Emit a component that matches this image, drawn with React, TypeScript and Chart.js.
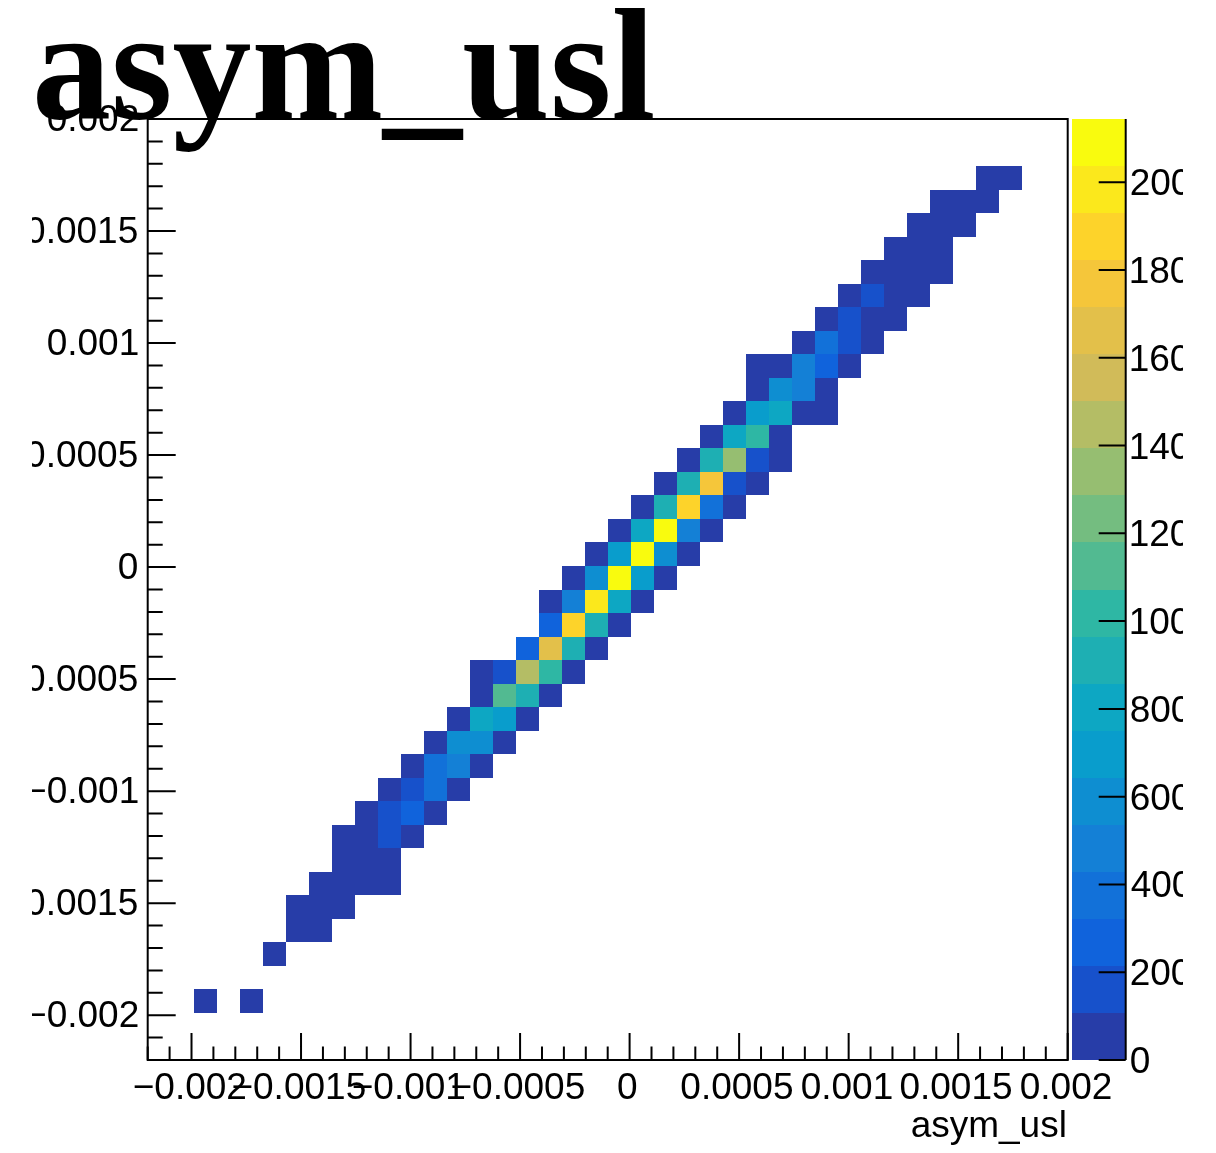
import React, { useEffect, useRef } from 'react';
import { Chart, registerables } from 'chart.js';

Chart.register(...registerables);

// ---- binning / axis ranges ----
const AXIS_MIN = -0.0022;
const AXIS_MAX = 0.002;
const N_BINS = 40;
const MINOR_STEP = 0.0001;
const MAJOR_STEP = 0.0005;
const Z_MAX = 2144;
const N_CONTOURS = 20;

// ---- tick labels ----
const X_TICKS = [-0.002, -0.0015, -0.001, -0.0005, 0, 0.0005, 0.001, 0.0015, 0.002];
const X_TICK_LABELS = ['\u22120.002', '\u22120.0015', '\u22120.001', '\u22120.0005', '0', '0.0005', '0.001', '0.0015', '0.002'];
const Y_TICKS = [-0.002, -0.0015, -0.001, -0.0005, 0, 0.0005, 0.001, 0.0015, 0.002];
const Y_TICK_LABELS = ['\u22120.002', '\u22120.0015', '\u22120.001', '\u22120.0005', '0', '0.0005', '0.001', '0.0015', '0.002'];
const Z_TICKS = [0, 200, 400, 600, 800, 1000, 1200, 1400, 1600, 1800, 2000];
const Z_TICK_LABELS = ['0', '200', '400', '600', '800', '1000', '1200', '1400', '1600', '1800', '2000'];

const TITLE = 'asym_usl';
const X_TITLE = 'asym_usl';

// ---- histogram contents: one row per y bin ----
const ROW_Y_BIN = [2, 4, 5, 6, 7, 8, 9, 10, 11, 12, 13, 14, 15, 16, 17, 18, 19, 20, 21, 22, 23, 24, 25, 26, 27, 28, 29, 30, 31, 32, 33, 34, 35, 36, 37];
const ROW_FIRST_X_BIN = [2, 5, 6, 6, 7, 8, 8, 9, 10, 11, 12, 13, 14, 14, 16, 17, 17, 18, 19, 20, 21, 22, 23, 24, 25, 26, 26, 28, 29, 30, 31, 32, 33, 34, 36];
const ROW_COUNTS = [
  [1, 0, 1],
  [2],
  [3, 4],
  [2, 6, 3],
  [5, 12, 9, 2],
  [10, 30, 8],
  [6, 40, 150, 15],
  [25, 160, 260, 20],
  [40, 180, 380, 35],
  [60, 380, 480, 55],
  [80, 580, 570, 70],
  [90, 790, 700, 90],
  [95, 1130, 900, 100],
  [60, 170, 1440, 1000, 90],
  [270, 1650, 910, 80],
  [260, 1850, 890, 75],
  [70, 480, 1970, 830, 70],
  [80, 590, 2140, 700, 70],
  [85, 700, 2090, 580, 75],
  [80, 800, 2100, 530, 70],
  [85, 900, 1860, 380, 70],
  [80, 890, 1760, 180, 70],
  [90, 910, 1340, 170, 60],
  [85, 800, 1010, 70],
  [80, 690, 790, 60, 30],
  [70, 580, 480, 50],
  [40, 60, 480, 260, 40],
  [60, 400, 170, 40],
  [50, 160, 60, 20],
  [45, 130, 50, 15],
  [40, 60, 30, 10],
  [30, 40, 15],
  [20, 25, 10],
  [10, 12, 5],
  [4, 2],
];

// ---- palette (ROOT kBird) ----
const BIRD_STOPS = [0.0, 0.125, 0.25, 0.375, 0.5, 0.625, 0.75, 0.875, 1.0];
const BIRD_R = [0.2082, 0.0592, 0.0780, 0.0232, 0.1802, 0.5301, 0.8186, 0.9956, 0.9764];
const BIRD_G = [0.1664, 0.3599, 0.5041, 0.6419, 0.7178, 0.7492, 0.7328, 0.7862, 0.9832];
const BIRD_B = [0.5293, 0.8684, 0.8385, 0.7914, 0.6425, 0.4662, 0.3499, 0.1968, 0.0539];

const SANS = "'Liberation Sans', Arial, Helvetica, sans-serif";
const SERIF = "'Liberation Serif', 'Times New Roman', serif";
const LABEL_FONT = `37px ${SANS}`;
const CLIP_LEFT = 32;
const CLIP_RIGHT = 1183;

const BIN_W = (AXIS_MAX - AXIS_MIN) / N_BINS;

function birdColor(p: number): string {
  let k = 0;
  while (k < BIRD_STOPS.length - 2 && p > BIRD_STOPS[k + 1]) k++;
  const t = (p - BIRD_STOPS[k]) / (BIRD_STOPS[k + 1] - BIRD_STOPS[k]);
  const c = (a: number[]) => Math.round(255 * (a[k] + (a[k + 1] - a[k]) * t));
  return `rgb(${c(BIRD_R)},${c(BIRD_G)},${c(BIRD_B)})`;
}

function contourColor(band: number): string {
  const idx = Math.floor(((band + 0.99) * 255) / N_CONTOURS);
  return birdColor(Math.min(1, idx / 254));
}

function colorForValue(v: number): string {
  const band = Math.min(N_CONTOURS - 1, Math.floor(v / (Z_MAX / N_CONTOURS)));
  return contourColor(band);
}

type Cell = { x: number; y: number; v: number; ix: number; iy: number };

function buildCells(): Cell[] {
  const cells: Cell[] = [];
  ROW_Y_BIN.forEach((iy, r) => {
    ROW_COUNTS[r].forEach((count, k) => {
      if (count <= 0) return;
      const ix = ROW_FIRST_X_BIN[r] + k;
      cells.push({
        x: AXIS_MIN + (ix + 0.5) * BIN_W,
        y: AXIS_MIN + (iy + 0.5) * BIN_W,
        v: count,
        ix,
        iy,
      });
    });
  });
  return cells;
}

// text helpers aligning on the ink box (as ROOT does)
function textRightInk(ctx: CanvasRenderingContext2D, s: string, xr: number, baseline: number) {
  const m = ctx.measureText(s);
  ctx.fillText(s, xr - m.actualBoundingBoxRight, baseline);
}
function textLeftInk(ctx: CanvasRenderingContext2D, s: string, xl: number, baseline: number) {
  const m = ctx.measureText(s);
  ctx.fillText(s, xl + m.actualBoundingBoxLeft, baseline);
}
function textCenterInk(ctx: CanvasRenderingContext2D, s: string, xc: number, baseline: number) {
  const m = ctx.measureText(s);
  ctx.fillText(s, xc - (m.actualBoundingBoxRight - m.actualBoundingBoxLeft) / 2, baseline);
}

const clipPlugin = {
  id: 'rootClip',
  beforeDraw(chart: any) {
    const ctx = chart.ctx;
    ctx.save();
    ctx.beginPath();
    ctx.rect(CLIP_LEFT, 0, CLIP_RIGHT - CLIP_LEFT, chart.height);
    ctx.clip();
  },
  afterDraw(chart: any) {
    chart.ctx.restore();
  },
};

const colzPlugin = {
  id: 'colzCells',
  beforeDatasetsDraw(chart: any) {
    const { ctx, chartArea } = chart;
    const xs = chart.scales.x;
    const ys = chart.scales.y;
    const data: Cell[] = chart.data.datasets[0].data;
    ctx.save();
    ctx.beginPath();
    ctx.rect(chartArea.left, chartArea.top, chartArea.right - chartArea.left, chartArea.bottom - chartArea.top);
    ctx.clip();
    for (const c of data) {
      const x0 = Math.round(xs.getPixelForValue(AXIS_MIN + c.ix * BIN_W));
      const x1 = Math.round(xs.getPixelForValue(AXIS_MIN + (c.ix + 1) * BIN_W));
      const y0 = Math.round(ys.getPixelForValue(AXIS_MIN + (c.iy + 1) * BIN_W));
      const y1 = Math.round(ys.getPixelForValue(AXIS_MIN + c.iy * BIN_W));
      ctx.fillStyle = colorForValue(c.v);
      ctx.fillRect(x0, y0, x1 - x0, y1 - y0);
    }
    ctx.restore();
  },
};

const framePlugin = {
  id: 'rootFrame',
  afterDraw(chart: any) {
    const { ctx, chartArea } = chart;
    const xs = chart.scales.x;
    const ys = chart.scales.y;
    const zs = chart.scales.z;
    const { left, right, top, bottom } = chartArea;
    ctx.save();
    ctx.strokeStyle = '#000';
    ctx.lineWidth = 2;
    ctx.strokeRect(left, top, right - left, bottom - top);

    const nMinor = Math.round((AXIS_MAX - AXIS_MIN) / MINOR_STEP);
    ctx.beginPath();
    for (let k = 0; k <= nMinor; k++) {
      const v = AXIS_MIN + k * MINOR_STEP;
      const major = Math.abs(v / MAJOR_STEP - Math.round(v / MAJOR_STEP)) < 1e-6;
      const px = xs.getPixelForValue(v);
      ctx.moveTo(px, bottom);
      ctx.lineTo(px, bottom - (major ? 27 : 13.5));
      const py = ys.getPixelForValue(v);
      ctx.moveTo(left, py);
      ctx.lineTo(left + (major ? 28 : 15), py);
    }
    ctx.stroke();

    // colour palette box
    const pLeft = right + 4.3;
    const pRight = right + 58;
    const dz = Z_MAX / N_CONTOURS;
    for (let b = 0; b < N_CONTOURS; b++) {
      const yb = zs.getPixelForValue(b * dz);
      const yt = zs.getPixelForValue((b + 1) * dz);
      ctx.fillStyle = contourColor(b);
      ctx.fillRect(pLeft, Math.round(yt), pRight - pLeft, Math.round(yb) - Math.round(yt));
    }
    ctx.beginPath();
    ctx.moveTo(pRight, zs.getPixelForValue(Z_MAX));
    ctx.lineTo(pRight, zs.getPixelForValue(0));
    Z_TICKS.forEach((v) => {
      const py = zs.getPixelForValue(v);
      ctx.moveTo(pRight, py);
      ctx.lineTo(pRight - 27, py);
    });
    ctx.stroke();

    ctx.fillStyle = '#000';
    ctx.font = LABEL_FONT;
    ctx.textAlign = 'left';
    ctx.textBaseline = 'alphabetic';

    // axis tick labels
    X_TICKS.forEach((v, i) => {
      textCenterInk(ctx, X_TICK_LABELS[i], xs.getPixelForValue(v) - 2, bottom + 38.5);
    });
    Y_TICKS.forEach((v, i) => {
      textRightInk(ctx, Y_TICK_LABELS[i], left - 10, ys.getPixelForValue(v) + 12);
    });
    Z_TICKS.forEach((v, i) => {
      textLeftInk(ctx, Z_TICK_LABELS[i], pRight + 5, zs.getPixelForValue(v) + 13);
    });

    // x axis title
    textRightInk(ctx, X_TITLE, right - 3, bottom + 77);

    // histogram title
    ctx.font = `bold 158px ${SERIF}`;
    ctx.fillText(TITLE, 32, 117.5);
    ctx.restore();
  },
};

export default function App() {
  const canvasRef = useRef<HTMLCanvasElement | null>(null);

  useEffect(() => {
    document.body.style.margin = '0';
    const canvas = canvasRef.current;
    if (!canvas) return;
    const cells = buildCells();
    const chart = new Chart(canvas, {
      type: 'scatter',
      data: {
        datasets: [
          {
            label: 'asym_usl',
            data: cells as any,
            pointRadius: 0,
            pointHoverRadius: 0,
            showLine: false,
          },
        ],
      },
      options: {
        animation: false,
        responsive: false,
        maintainAspectRatio: false,
        events: [],
        layout: { padding: { left: 0, top: 119, right: 148.3, bottom: 0 } },
        plugins: { legend: { display: false }, tooltip: { enabled: false }, title: { display: false } },
        scales: {
          x: {
            type: 'linear',
            position: 'bottom',
            min: AXIS_MIN,
            max: AXIS_MAX,
            afterBuildTicks: (s: any) => {
              s.ticks = X_TICKS.map((v) => ({ value: v }));
            },
            afterFit: (s: any) => {
              s.height = 93;
            },
            grid: { display: false, drawTicks: false },
            border: { display: false },
            ticks: { display: false },
          },
          y: {
            type: 'linear',
            position: 'left',
            min: AXIS_MIN,
            max: AXIS_MAX,
            afterBuildTicks: (s: any) => {
              s.ticks = Y_TICKS.map((v) => ({ value: v }));
            },
            afterFit: (s: any) => {
              s.width = 147.7;
            },
            grid: { display: false, drawTicks: false },
            border: { display: false },
            ticks: { display: false },
          },
          z: {
            type: 'linear',
            axis: 'y',
            position: 'right',
            display: false,
            min: 0,
            max: Z_MAX,
          },
        },
      } as any,
      plugins: [colzPlugin, framePlugin, clipPlugin],
    });
    return () => chart.destroy();
  }, []);

  return (
    <div style={{ width: 1216, height: 1153, background: '#fff' }}>
      <canvas ref={canvasRef} width={1216} height={1153} style={{ display: 'block' }} />
    </div>
  );
}
